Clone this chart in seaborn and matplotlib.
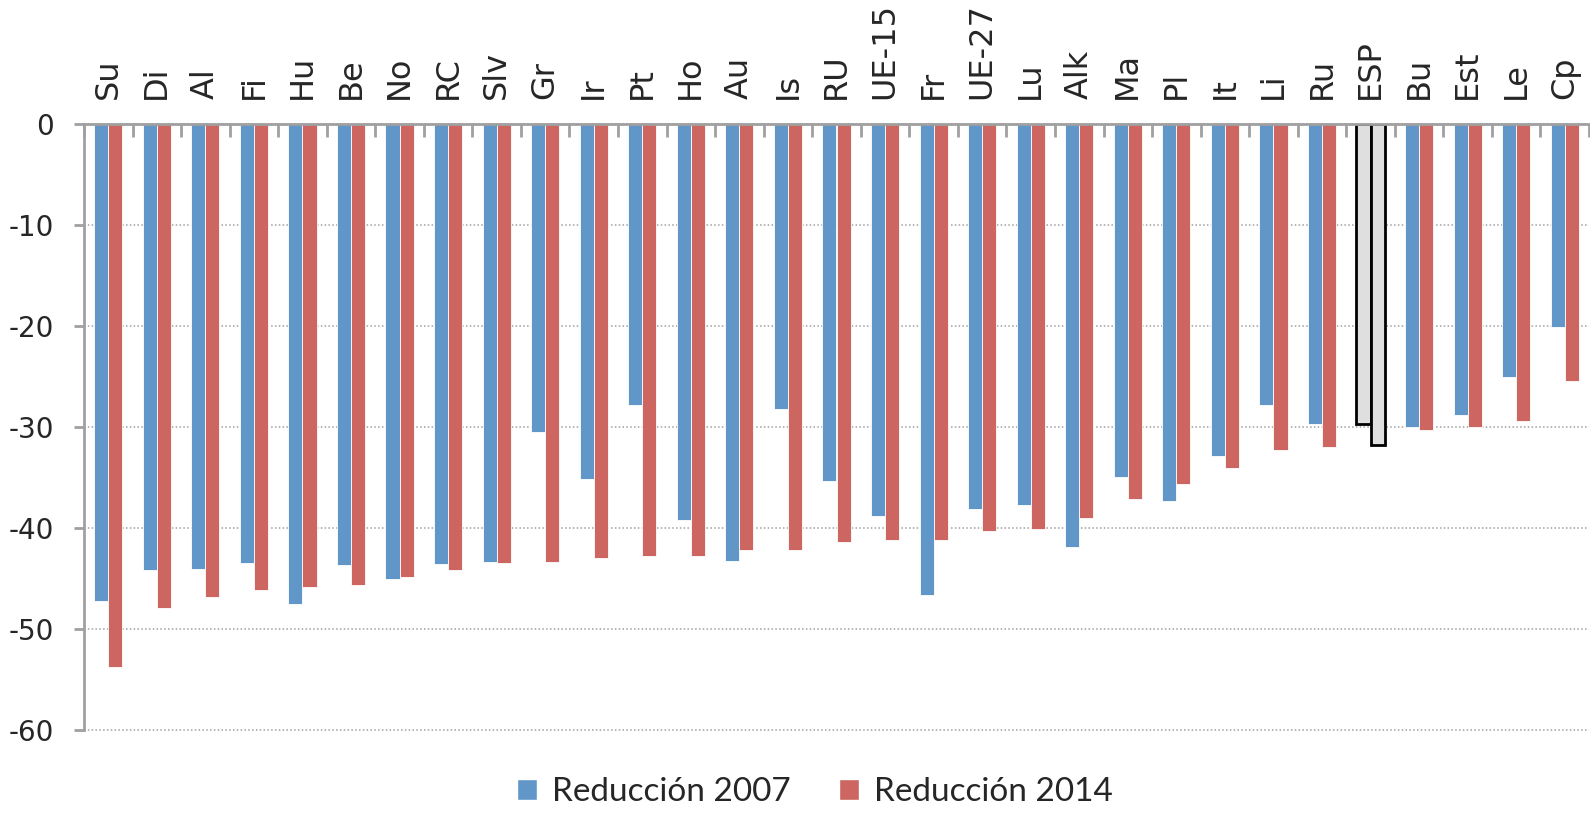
import matplotlib
matplotlib.use("Agg")
import matplotlib.pyplot as plt
import seaborn as sns
import pandas as pd
from matplotlib.patches import Patch
from matplotlib.ticker import FixedLocator

# Datos
paises = ["Su", "Di", "Al", "Fi", "Hu", "Be", "No", "RC", "Slv", "Gr", "Ir", "Pt",
          "Ho", "Au", "Is", "RU", "UE-15", "Fr", "UE-27", "Lu", "Alk", "Ma", "Pl",
          "It", "Li", "Ru", "ESP", "Bu", "Est", "Le", "Cp"]
red_2007 = [-47.2, -44.2, -44.1, -43.5, -47.5, -43.7, -45.0, -43.6, -43.4, -30.5,
            -35.1, -27.8, -39.2, -43.3, -28.2, -35.3, -38.8, -46.6, -38.1, -37.7,
            -41.9, -34.9, -37.3, -32.9, -27.8, -29.7, -29.7, -30.0, -28.8, -25.0, -20.1]
red_2014 = [-53.8, -47.9, -46.8, -46.1, -45.8, -45.6, -44.8, -44.2, -43.5, -43.4,
            -43.0, -42.8, -42.8, -42.2, -42.2, -41.4, -41.2, -41.2, -40.3, -40.1,
            -39.0, -37.1, -35.6, -34.0, -32.3, -32.0, -31.8, -30.3, -30.0, -29.4, -25.4]
series = ["Reducción 2007", "Reducción 2014"]
destacado = "ESP"

azul = "#6196C8"
rojo = "#CD6660"
gris = "#DFDFDF"

df = pd.DataFrame({
    "pais": paises * 2,
    "serie": [series[0]] * len(paises) + [series[1]] * len(paises),
    "valor": red_2007 + red_2014,
})

sns.set_style("white")
plt.rcParams["font.family"] = ["DejaVu Sans"]
plt.rcParams["axes.unicode_minus"] = False

fig = plt.figure(figsize=(15.9, 8.15), dpi=100)
ax = fig.add_axes([84 / 1590, 1 - 730 / 815, 1505 / 1590, (730 - 124.3) / 815])

sns.barplot(data=df, x="pais", y="valor", hue="serie", order=paises,
            hue_order=series, palette=[azul, rojo], width=0.58, dodge=True,
            saturation=1, legend=False, ax=ax, edgecolor="white", linewidth=0.6)

# Barras de España en gris con borde negro
idx = paises.index(destacado)
for cont in ax.containers:
    bar = cont.patches[idx]
    bar.set_facecolor(gris)
    bar.set_edgecolor("black")
    bar.set_linewidth(2)

ax.set_xlim(-0.5, len(paises) - 0.5)
ax.set_ylim(-60, 0)
ax.set_yticks(range(0, -61, -10))
ax.set_xlabel("")
ax.set_ylabel("")

# Rejilla punteada
ax.yaxis.grid(True, linestyle=(0, (1, 1.5)), color="#A0A0A0", linewidth=1.1)
for gl in ax.yaxis.get_gridlines():
    gl.set_clip_on(False)
ax.set_axisbelow(True)

for s in ["right", "bottom"]:
    ax.spines[s].set_visible(False)
for s in ["top", "left"]:
    ax.spines[s].set_color("#A0A0A0")
    ax.spines[s].set_linewidth(2)

# Etiquetas arriba, marcas entre categorías hacia dentro
ax.xaxis.set_ticks_position("top")
ax.tick_params(axis="x", which="major", length=0, pad=18, labelsize=23,
               labelrotation=90, labeltop=True, labelbottom=False)
ax.xaxis.set_minor_locator(FixedLocator([i - 0.5 for i in range(len(paises) + 1)]))
ax.tick_params(axis="x", which="minor", direction="in", length=9, width=2,
               color="#A0A0A0", top=True, bottom=False)
ax.tick_params(axis="y", which="major", direction="out", length=7.5, width=2,
               color="#A0A0A0", labelsize=20, pad=14, left=True)

manejadores = [Patch(facecolor=azul, label=series[0]),
               Patch(facecolor=rojo, label=series[1])]
fig.legend(handles=manejadores, loc="center", bbox_to_anchor=(815 / 1590, 1 - 792 / 815),
           ncol=2, frameon=False, prop={"family": ["Lato", "DejaVu Sans"], "size": 24},
           handlelength=0.6, handleheight=0.6, handletextpad=0.45, columnspacing=1.45,
           borderpad=0.2)

fig.savefig("out.png", dpi=100)
